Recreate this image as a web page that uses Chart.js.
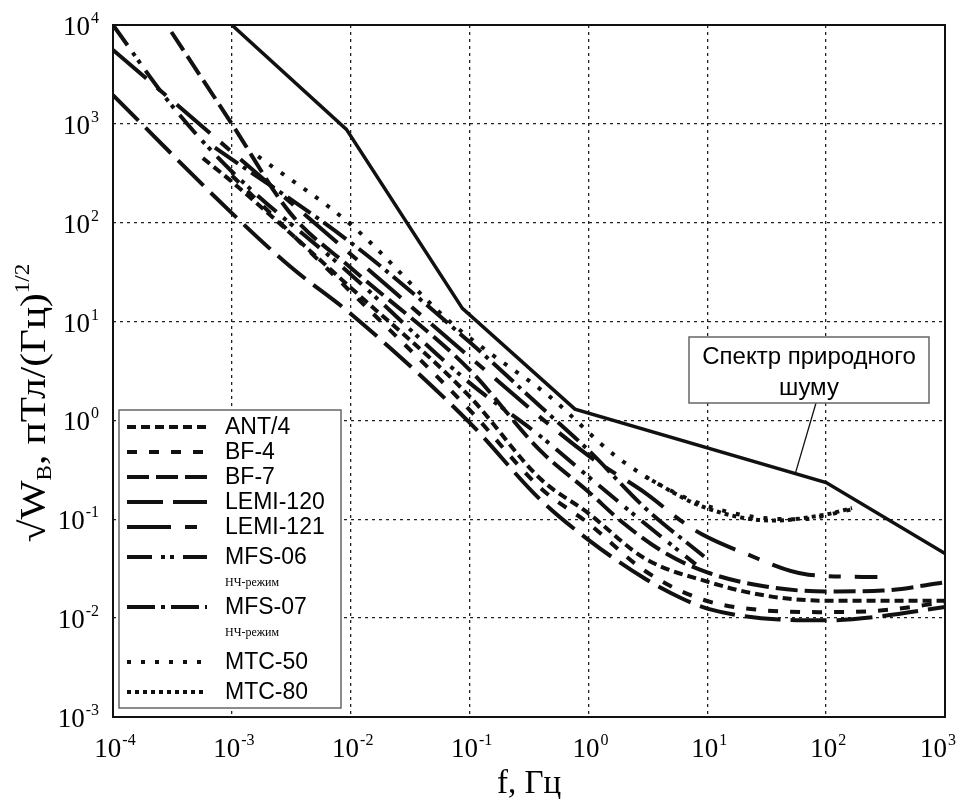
<!DOCTYPE html>
<html>
<head>
<meta charset="utf-8">
<script src="https://cdn.jsdelivr.net/npm/chart.js@4.4.1/dist/chart.umd.min.js"></script>
<style>
  body { margin: 0; background: #fff; }
  canvas { display: block; }
</style>
</head>
<body>
<canvas id="myChart" width="958" height="799"></canvas>
<script>
// tick values and exponent labels
const xTicks = [1e-4, 1e-3, 1e-2, 1e-1, 1, 10, 100, 1000]
const yTicks = [1e-3, 1e-2, 1e-1, 1, 10, 100, 1000, 1e4]
const xExp = ['-4', '-3', '-2', '-1', '0', '1', '2', '3']
const yExp = ['-3', '-2', '-1', '0', '1', '2', '3', '4']

// Спектр природного шуму
const natF = [1e-3, 9.2e-3, 0.087, 0.77, 100, 1000]
const natV = [1e4, 880, 13.6, 1.3, 0.235, 0.045]

const ant4F = [5.7e-4, 1e-3, 1e-2, 0.1, 0.39, 1, 3, 10, 30, 100, 1000]
const ant4V = [450, 260, 22, 1.75, 0.26, 0.115, 0.04, 0.0234, 0.017, 0.015, 0.015]

const bf4F = [1e-3, 1e-2, 0.1, 0.39, 1, 3, 9, 30, 100, 300, 1000]
const bf4V = [300, 20, 1.28, 0.21, 0.091, 0.03, 0.0155, 0.012, 0.0115, 0.012, 0.0145]

const bf7F = [3.1e-4, 1e-3, 3.1e-3, 1e-2, 0.1, 0.39, 1, 2, 4.5, 10, 30, 100, 300, 1000]
const bf7V = [8500, 1000, 125, 35, 3.25, 0.5, 0.19, 0.09, 0.045, 0.029, 0.021, 0.0186, 0.019, 0.023]

const lemi120F = [1e-4, 1e-3, 3.1e-3, 1e-2, 0.1, 0.39, 1, 3, 6, 10, 40, 100, 300, 1000]
const lemi120V = [1950, 125, 36, 12, 0.95, 0.16, 0.062, 0.025, 0.016, 0.0125, 0.0097, 0.0095, 0.0105, 0.013]

const lemi121F = [1e-4, 1e-3, 1e-2, 0.1, 1, 3.1, 6.2, 9.1, 20, 71, 270]
const lemi121V = [5600, 520, 48, 4.4, 0.44, 0.18, 0.094, 0.07, 0.046, 0.0275, 0.026]

const mfs06F = [1e-4, 3.1e-4, 1e-3, 1e-2, 0.1, 0.39, 1, 3, 8]
const mfs06V = [1e4, 1550, 330, 30, 2.4, 0.7, 0.27, 0.09, 0.035]

const mfs07F = [7.2e-4, 1e-2, 0.1, 0.39, 1, 3, 9.4]
const mfs07V = [575, 63, 6.2, 1.4, 0.5, 0.13, 0.042]

const mtc50F = [1.66e-3, 0.01, 0.068, 0.13, 0.47, 1.72, 6.25, 20, 60, 160]
const mtc50V = [470, 96, 10, 5.4, 1.75, 0.43, 0.17, 0.11, 0.1, 0.125]

const mtc80F = [3, 9, 35, 100, 165]
const mtc80V = [0.27, 0.135, 0.097, 0.112, 0.13]

const notes = ['', '', '', '', '', 'НЧ-режим', 'НЧ-режим', '', '']

function pts(f, v) {
    return f.map((x, i) => ({x: x, y: v[i]}))
}

function line(label, f, v, dash, width) {
    return {
        label: label,
        data: pts(f, v),
        borderColor: '#111',
        borderWidth: width || 4,
        borderDash: dash,
        borderCapStyle: 'butt',
        pointRadius: 0,
        cubicInterpolationMode: 'monotone',
        fill: false
    }
}

const datasets = [
    line('ANT/4', ant4F, ant4V, [9, 5]),
    line('BF-4', bf4F, bf4V, [10, 12]),
    line('BF-7', bf7F, bf7V, [22, 7]),
    line('LEMI-120', lemi120F, lemi120V, [36, 10]),
    line('LEMI-121', lemi121F, lemi121V, [44, 14, 12, 14]),
    line('MFS-06', mfs06F, mfs06V, [25, 9, 4, 5, 4, 9]),
    line('MFS-07', mfs07F, mfs07V, [28, 6, 4, 6]),
    line('MTC-50', mtc50F, mtc50V, [4, 10]),
    line('MTC-80', mtc80F, mtc80V, [4, 4]),
    {
        label: 'nature',
        data: pts(natF, natV),
        borderColor: '#111',
        borderWidth: 3.5,
        pointRadius: 0,
        tension: 0,
        fill: false
    }
]

function drawPow(ctx, exp, x, y, align) {
    ctx.font = '27px "Liberation Serif"'
    const wb = ctx.measureText('10').width
    ctx.font = '16px "Liberation Serif"'
    const we = ctx.measureText(exp).width
    const total = wb + we + 1
    let x0 = align === 'center' ? x - total / 2 : x - total
    if (x0 + total > 956) x0 = 956 - total
    ctx.textAlign = 'left'
    ctx.textBaseline = 'alphabetic'
    ctx.font = '27px "Liberation Serif"'
    ctx.fillText('10', x0, y)
    ctx.font = '16px "Liberation Serif"'
    ctx.fillText(exp, x0 + wb + 1, y - 12)
}

const decor = {
    id: 'decor',
    afterDatasetsDraw(chart) {
        const ctx = chart.ctx
        const xs = chart.scales.x
        const ys = chart.scales.y
        ctx.save()

        // legend box
        ctx.fillStyle = '#fff'
        ctx.fillRect(119, 410, 222, 298)
        ctx.strokeStyle = '#666'
        ctx.lineWidth = 1.5
        ctx.strokeRect(119, 410, 222, 298)
        const rows = [427, 452, 477, 502, 527, 557, 607, 662, 692]
        const noteRows = [583, 633]
        let n = 0
        chart.data.datasets.slice(0, 9).forEach((ds, i) => {
            const y = rows[i]
            ctx.strokeStyle = '#111'
            ctx.lineWidth = 4
            ctx.lineCap = 'butt'
            ctx.setLineDash(ds.borderDash)
            ctx.beginPath()
            ctx.moveTo(127, y)
            ctx.lineTo(207, y)
            ctx.stroke()
            ctx.setLineDash([])
            ctx.fillStyle = '#000'
            ctx.font = '23px "Liberation Sans"'
            ctx.textAlign = 'left'
            ctx.textBaseline = 'middle'
            ctx.fillText(ds.label, 225, y + 1)
            if (notes[i]) {
                ctx.font = '12px "Liberation Serif"'
                ctx.fillText(notes[i], 225, noteRows[n])
                n++
            }
        })

        // natural noise annotation
        const fx = 55
        const k = (Math.log10(fx) - Math.log10(natF[3])) / (Math.log10(natF[4]) - Math.log10(natF[3]))
        const vy = Math.pow(10, Math.log10(natV[3]) + k * (Math.log10(natV[4]) - Math.log10(natV[3])))
        ctx.strokeStyle = '#111'
        ctx.lineWidth = 1.3
        ctx.beginPath()
        ctx.moveTo(816, 403)
        ctx.lineTo(xs.getPixelForValue(fx), ys.getPixelForValue(vy))
        ctx.stroke()
        ctx.fillStyle = '#fff'
        ctx.fillRect(689, 337, 240, 66)
        ctx.strokeStyle = '#666'
        ctx.lineWidth = 1.5
        ctx.strokeRect(689, 337, 240, 66)
        ctx.fillStyle = '#000'
        ctx.font = '24px "Liberation Sans"'
        ctx.textAlign = 'center'
        ctx.textBaseline = 'middle'
        ctx.fillText('Спектр природного', 809, 357)
        ctx.fillText('шуму', 809, 388)
        ctx.restore()
    },
    afterDraw(chart) {
        const ctx = chart.ctx
        const a = chart.chartArea
        const xs = chart.scales.x
        const ys = chart.scales.y
        ctx.save()
        ctx.strokeStyle = '#111'
        ctx.lineWidth = 2
        ctx.strokeRect(a.left, a.top, a.right - a.left, a.bottom - a.top)

        ctx.fillStyle = '#000'
        xTicks.forEach((v, i) => drawPow(ctx, xExp[i], xs.getPixelForValue(v) + 2, 757, 'center'))
        yTicks.forEach((v, i) => drawPow(ctx, yExp[i], 99, ys.getPixelForValue(v) + 10, 'right'))

        // x title
        ctx.font = '33px "Liberation Serif"'
        ctx.textAlign = 'center'
        ctx.textBaseline = 'alphabetic'
        ctx.fillText('f, Гц', (a.left + a.right) / 2, 793)

        // y title
        ctx.translate(45, 403)
        ctx.rotate(-Math.PI / 2)
        ctx.scale(1.15, 1)
        const parts = [
            {t: '√W', s: 36, dy: 0},
            {t: 'В', s: 20, dy: 6},
            {t: ', пТл/(Гц)', s: 36, dy: 0},
            {t: '1/2', s: 20, dy: -16}
        ]
        let total = 0
        parts.forEach(p => {
            ctx.font = p.s + 'px "Liberation Serif"'
            p.w = ctx.measureText(p.t).width
            total += p.w
        })
        let x = -total / 2
        ctx.textAlign = 'left'
        parts.forEach(p => {
            ctx.font = p.s + 'px "Liberation Serif"'
            ctx.fillText(p.t, x, p.dy)
            x += p.w
        })
        ctx.restore()
    }
}

const config = {
    type: 'line',
    data: {datasets: datasets},
    options: {
        responsive: false,
        animation: false,
        devicePixelRatio: 1,
        layout: {padding: {left: 113, right: 13, top: 25, bottom: 82}},
        plugins: {legend: {display: false}, tooltip: {enabled: false}},
        scales: {
            x: {
                type: 'logarithmic',
                min: 1e-4,
                max: 1e3,
                afterBuildTicks: s => { s.ticks = xTicks.map(v => ({value: v})) },
                afterFit: s => { s.height = 0 },
                ticks: {display: false},
                grid: {color: '#222', lineWidth: 1.3, drawTicks: false},
                border: {display: false, dash: [3, 4]}
            },
            y: {
                type: 'logarithmic',
                min: 1e-3,
                max: 1e4,
                afterBuildTicks: s => { s.ticks = yTicks.map(v => ({value: v})) },
                afterFit: s => { s.width = 0 },
                ticks: {display: false},
                grid: {color: '#222', lineWidth: 1.3, drawTicks: false},
                border: {display: false, dash: [3, 4]}
            }
        }
    },
    plugins: [decor]
}

const myChart = new Chart(document.getElementById('myChart'), config)
</script>
</body>
</html>
